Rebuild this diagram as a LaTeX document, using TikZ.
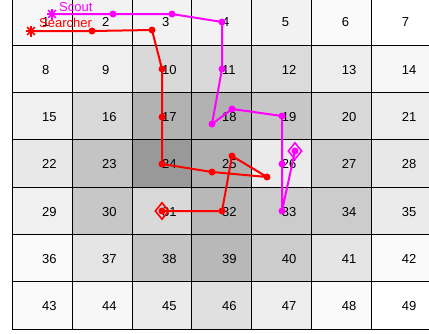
\documentclass[tikz,border=0pt]{standalone}
\usepackage{fontspec}
\setmainfont{Liberation Sans}
\usetikzlibrary{shapes.geometric, positioning, calc}
\definecolor{scoutcol}{RGB}{255,0,255}
\definecolor{searchcol}{RGB}{255,0,0}

\begin{document}
\begin{tikzpicture}[
      x=1pt, y=-1pt,
      cell/.style={rectangle, draw=black, line width=0.8pt,
                   minimum width=59.95pt, minimum height=47.33pt, inner sep=0pt},
      num/.style={anchor=west, inner sep=0pt, font=\fontsize{13}{15}\selectfont},
      tag/.style={anchor=west, inner sep=0pt, font=\fontsize{13}{15}\selectfont},
      trail/.style={line width=2pt, line join=round},
      dot/.style={circle, fill, inner sep=0pt, minimum size=7pt},
      goal/.style={diamond, draw, line width=1.6pt, inner sep=0pt,
                   minimum width=14pt, minimum height=17pt},
      startmark/.pic={\foreach \a in {0,45,90,135}
                        \draw[line width=1.6pt] (\a:5.5pt) -- (\a+180:5.5pt);}
    ]
    \useasboundingbox (0,0) rectangle (429,333);
    \clip (0,0) rectangle (429,333);
    % grid of cells
    \foreach \lvl [count=\n] in {3,5,5,5,5,2,0,
                                 3,6,15,15,14,7,3,
                                 6,15,30,30,22,15,7,
                                 9,23,40,31,8,20,9,
                                 6,22,15,28,20,20,8,
                                 2,10,23,28,20,10,2,
                                 2,3,8,12,7,2,0} {
      \pgfmathtruncatemacro\col{mod(\n-1,7)}
      \pgfmathtruncatemacro\row{int((\n-1)/7)}
      \node[cell, fill=black!\lvl] (c\n) at ({12+59.95*(\col+0.5)}, {-2.3+47.33*(\row+0.5)}) {};
      \node[num] (n\n) at ([yshift=-1pt]c\n.center) {\n};
    }
    % searcher trail
    \coordinate (s0) at (31,31);
    \coordinate (s1) at (92,31);
    \coordinate (s2) at (152,30);
    \coordinate (s3) at (162,69);
    \coordinate (s4) at (162,117);
    \coordinate (s5) at (162,164);
    \coordinate (s6) at (212,172);
    \coordinate (s7) at (267,177);
    \coordinate (s8) at (232,156);
    \coordinate (s9) at (222,211);
    \coordinate (s10) at (162,211);
    % scout trail
    \coordinate (t0) at (52,14);
    \coordinate (t1) at (113,14);
    \coordinate (t2) at (172,14);
    \coordinate (t3) at (222,22);
    \coordinate (t4) at (222,69);
    \coordinate (t5) at (212,124);
    \coordinate (t6) at (232,109);
    \coordinate (t7) at (282,116);
    \coordinate (t8) at (282,164);
    \coordinate (t9) at (282,211);
    \coordinate (t10) at (295,151);

    \draw[trail, scoutcol] (t0) -- (t1) -- (t2) -- (t3) -- (t4) -- (t5) -- (t6)
                           -- (t7) -- (t8) -- (t9) -- (t10);
    \foreach \i in {1,...,10} \node[dot, scoutcol] (td\i) at (t\i) {};
    \node[goal, scoutcol] (tend) at (t10) {};
    \pic[scoutcol] at (t0) {startmark};

    \draw[trail, searchcol] (s0) -- (s1) -- (s2) -- (s3) -- (s4) -- (s5) -- (s6)
                            -- (s7) -- (s8) -- (s9) -- (s10);
    \foreach \i in {1,...,10} \node[dot, searchcol] (sd\i) at (s\i) {};
    \node[goal, searchcol] (send) at (s10) {};
    \pic[searchcol] at (s0) {startmark};

    \node[tag, text=scoutcol] (scout) at (59,7.5) {Scout};
    \node[tag, text=searchcol] (searcher) at (39,23) {Searcher};
  \end{tikzpicture}
\end{document}
